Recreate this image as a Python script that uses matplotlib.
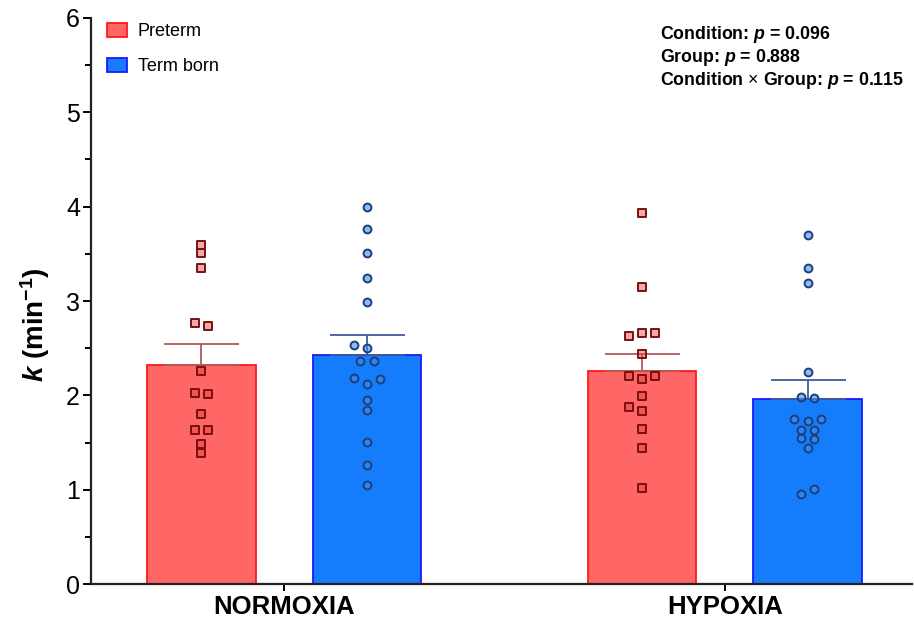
import numpy as np
import matplotlib
matplotlib.use("Agg")
import matplotlib.pyplot as plt
from matplotlib.patches import Patch

plt.rcParams['font.family'] = ['Liberation Sans', 'DejaVu Sans']
plt.rcParams['mathtext.fontset'] = 'custom'
plt.rcParams['mathtext.rm'] = 'Liberation Sans'
plt.rcParams['mathtext.bf'] = 'Liberation Sans:bold'
plt.rcParams['mathtext.it'] = 'Liberation Sans:italic'
plt.rcParams['mathtext.bfit'] = 'Liberation Sans:italic:bold'

# data (k, min^-1)
conditions = ["NORMOXIA", "HYPOXIA"]
groups = ["Preterm", "Term born"]

preterm_normoxia = [3.59, 3.51, 3.35, 2.77, 2.74, 2.26, 2.03, 2.01, 1.80, 1.63, 1.63, 1.48, 1.39]
term_normoxia = [4.00, 3.76, 3.51, 3.24, 2.99, 2.53, 2.50, 2.36, 2.36, 2.18, 2.17, 2.12,
                 1.95, 1.84, 1.51, 1.26, 1.05]
preterm_hypoxia = [3.93, 3.15, 2.66, 2.66, 2.63, 2.44, 2.21, 2.21, 2.17, 1.99, 1.88, 1.83,
                   1.64, 1.44, 1.02]
term_hypoxia = [3.70, 3.35, 3.19, 2.25, 1.98, 1.97, 1.75, 1.73, 1.75, 1.63, 1.63, 1.55,
                1.54, 1.44, 1.01, 0.95]

# horizontal jitter slots for the scatter (in half-marker steps)
preterm_normoxia_slot = [0, 0, 0, -1, 1, 0, -1, 1, 0, -1, 1, 0, 0]
term_normoxia_slot = [0, 0, 0, 0, 0, -2, 0, -1, 1, -2, 2, 0, 0, 0, 0, 0, 0]
preterm_hypoxia_slot = [0, 0, 0, 2, -2, 0, -2, 2, 0, 0, -2, 0, 0, 0, 0]
term_hypoxia_slot = [0, 0, 0, 0, -1, 1, -2, 0, 2, -1, 1, -1, 1, 0, 1, -1]

stats_text = [r"Condition: $\boldsymbol{p}$ = 0.096",
              r"Group: $\boldsymbol{p}$ = 0.888",
              r"Condition $\times$ Group: $\boldsymbol{p}$ = 0.115"]

data = {
    "Preterm": [preterm_normoxia, preterm_hypoxia],
    "Term born": [term_normoxia, term_hypoxia],
}
slots = {
    "Preterm": [preterm_normoxia_slot, preterm_hypoxia_slot],
    "Term born": [term_normoxia_slot, term_hypoxia_slot],
}

styles = {
    "Preterm": dict(fill="#FF6666", edge="#FF1A1A", mk_face=(0.91, 0.25, 0.25, 0.45),
                    mk_edge="#7A1010", err="#B05A5A", marker="s", off=-0.188),
    "Term born": dict(fill="#157CFB", edge="#1A1AFF", mk_face=(0.25, 0.55, 0.92, 0.6),
                      mk_edge="#1C3F7A", err="#3D5C9C", marker="o", off=0.188),
}

fig = plt.figure(figsize=(9.14, 6.2), dpi=100)
ax = fig.add_axes([0.0996, 0.058, 0.898, 0.913])

x = np.arange(len(conditions))
width = 0.247
jit = 0.0151

for g in groups:
    st = styles[g]
    means = [np.mean(v) for v in data[g]]
    sems = [np.std(v, ddof=1) / np.sqrt(len(v)) for v in data[g]]
    xs = x + st["off"]
    ax.bar(xs, means, width, color=st["fill"], edgecolor=st["edge"], linewidth=1.3, zorder=2)
    ax.errorbar(xs, means, yerr=[np.zeros(len(sems)), sems], fmt="none", ecolor=st["err"],
                elinewidth=1.3, capsize=27, capthick=1.3, zorder=3)
    for i, vals in enumerate(data[g]):
        px = xs[i] + jit * np.array(slots[g][i])
        ax.scatter(px, vals, marker=st["marker"], s=32, facecolor=st["mk_face"],
                   edgecolor=st["mk_edge"], linewidth=1.4, zorder=4)

ax.set_xlim(-0.438, 1.424)
ax.set_ylim(0, 6)
ax.set_yticks(range(0, 7))
ax.set_yticks(np.arange(0.5, 6, 1), minor=True)
ax.set_xticks(x)
ax.set_xticklabels(conditions, fontsize=18.5, fontweight="bold")
ax.tick_params(axis="y", which="major", labelsize=18, length=6, width=1.4, pad=2)
ax.tick_params(axis="y", which="minor", length=4, width=1.4)
ax.tick_params(axis="x", length=5, width=1.4, pad=3)
for s in ["top", "right"]:
    ax.spines[s].set_visible(False)
for s in ["left", "bottom"]:
    ax.spines[s].set_linewidth(1.6)
    ax.spines[s].set_color("#222222")

ax.set_ylabel(r"$\boldsymbol{k}$ (min$^{\mathbf{-1}}$)", fontsize=20, fontweight="bold")
ax.yaxis.set_label_coords(-0.0475, 0.458)

handles = [Patch(facecolor=styles[g]["fill"], edgecolor=styles[g]["edge"], linewidth=1.3, label=g)
           for g in groups]
ax.legend(handles=handles, loc="upper left", bbox_to_anchor=(0.0, 1.02), frameon=False,
          fontsize=13, handlelength=1.1, handleheight=0.85, labelspacing=0.95, handletextpad=0.6)

for i, t in enumerate(stats_text):
    ax.text(0.6935, 0.970 - i * 0.0406, t, transform=ax.transAxes, fontsize=12.8, fontweight="bold",
            va="center", ha="left")

fig.savefig("out.png", dpi=100)
